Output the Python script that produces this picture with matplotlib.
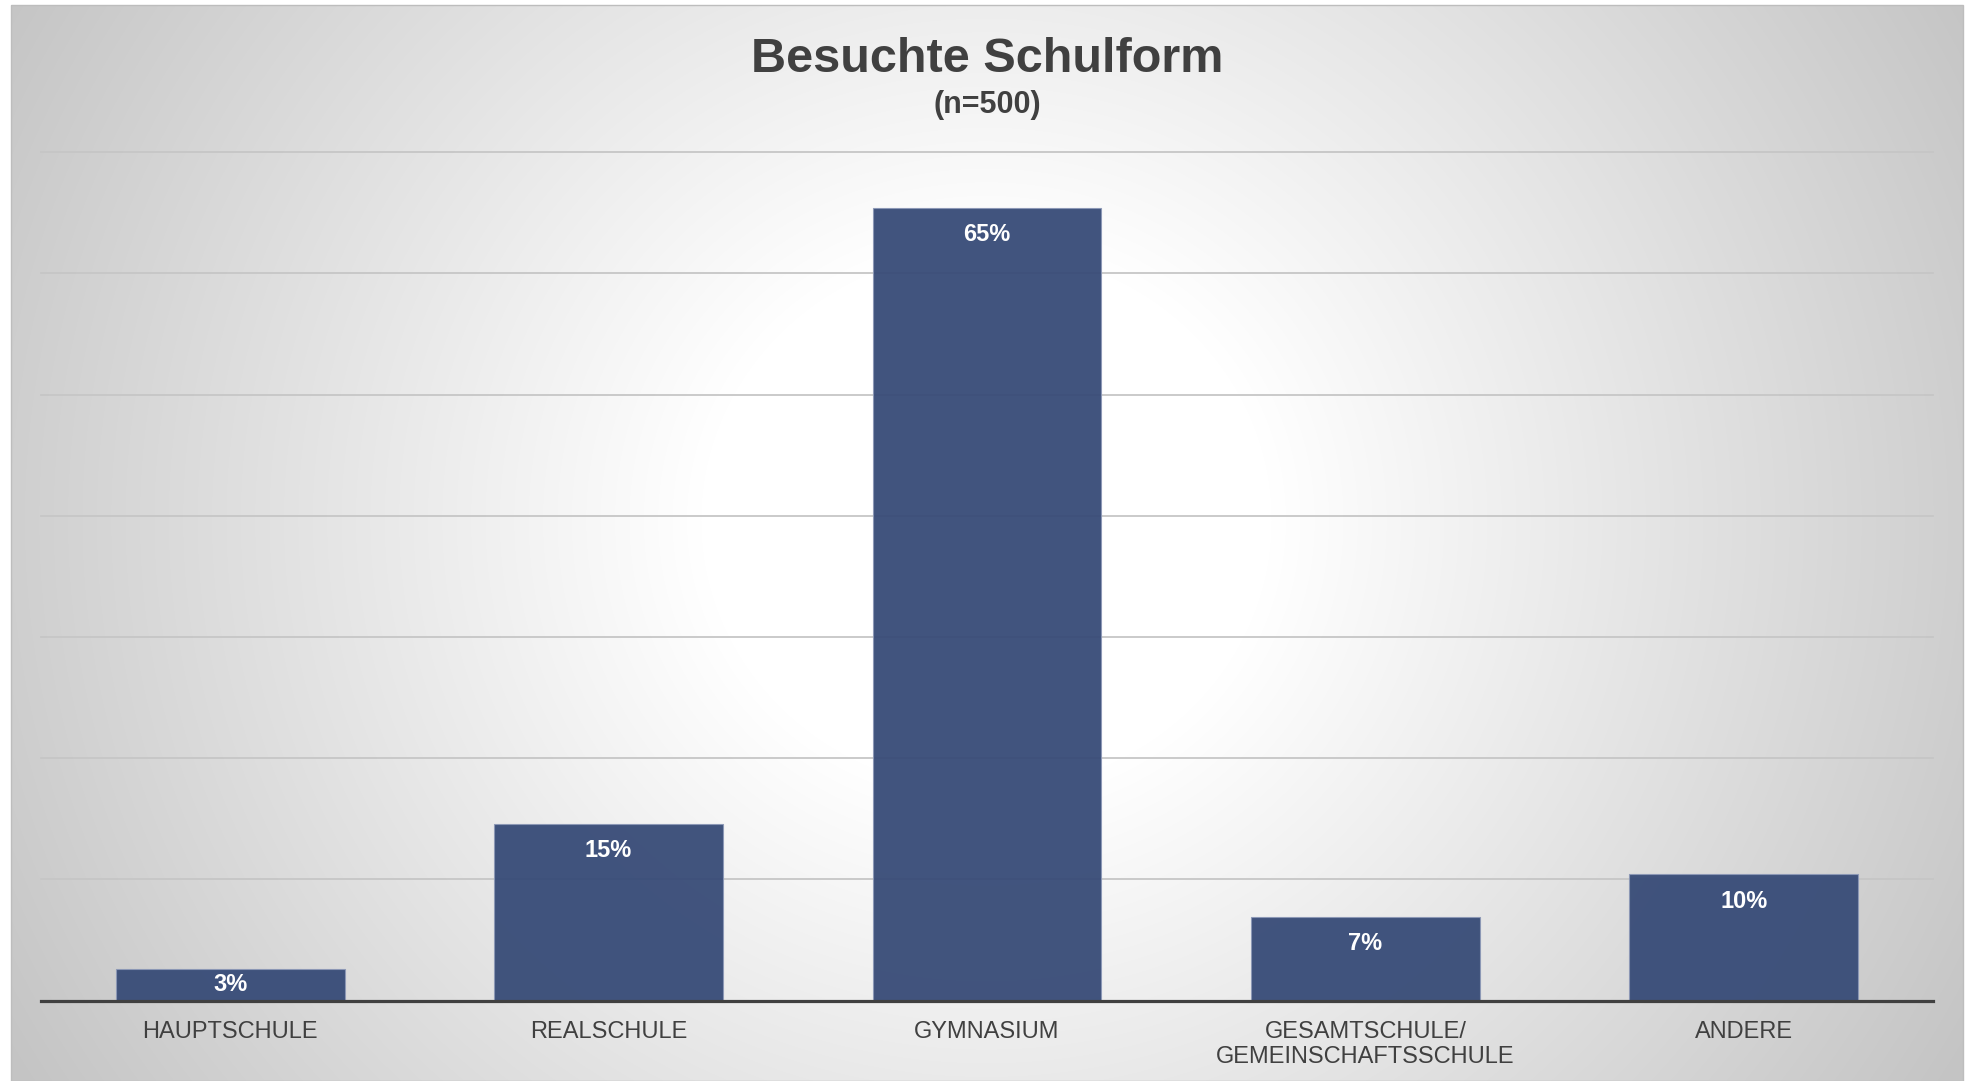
import numpy as np
import matplotlib
matplotlib.use("Agg")
import matplotlib.pyplot as plt
from matplotlib.patches import Rectangle

# ---- data ----
categories = ["HAUPTSCHULE", "REALSCHULE", "GYMNASIUM",
              "GESAMTSCHULE/\nGEMEINSCHAFTSSCHULE", "ANDERE"]
shares = [0.026, 0.146, 0.654, 0.069, 0.104]
y_ticks = [0.0, 0.1, 0.2, 0.3, 0.4, 0.5, 0.6, 0.7]
title = "Besuchte Schulform"
subtitle = "(n=500)"

W, H, DPI = 1968, 1081, 100
plt.rcParams['font.family'] = ['Liberation Sans', 'DejaVu Sans']
fig = plt.figure(figsize=(W / DPI, H / DPI), dpi=DPI)
fig.patch.set_facecolor('white')

# ---- background frame with radial gradient ----
fx0, fx1, fy_top = 11, 1963, 5
bg = fig.add_axes([fx0 / W, 0, (fx1 - fx0) / W, (H - fy_top) / H], zorder=-5)
gx = np.arange(fx0, fx1)
gy = np.arange(fy_top, H)
XX, YY = np.meshgrid(gx, gy)
d = np.sqrt(((XX - 986) / 950.0) ** 2 + ((YY - 520) / 900.0) ** 2)
v = 255 - 66 * np.clip(d - 0.3, 0, None)
v = np.clip(v, 196, 255) / 255.0
img = np.dstack([v, v, v])
bg.imshow(img, aspect='auto', interpolation='bilinear')
bg.set_axis_off()
fig.patches.append(Rectangle((fx0 / W, 0), (fx1 - fx0) / W, (H - fy_top) / H,
                             transform=fig.transFigure, fill=False,
                             edgecolor='#BDBDBD', linewidth=1.0, zorder=-4))

# ---- main axes ----
ax_l, ax_r = 41, 1933
ax_base, ax_top = 1000.5, 152.1
ax = fig.add_axes([ax_l / W, (H - ax_base) / H, (ax_r - ax_l) / W,
                   (ax_base - ax_top) / H])
ax.set_facecolor('none')

x = np.arange(len(categories))
for t in y_ticks[1:]:
    ax.axhline(t, color='#C6C6C6', linewidth=1.3, zorder=1, clip_on=False)

bars = ax.bar(x, shares, width=0.605, color='#374B77', alpha=0.95,
              edgecolor='#8C98B6', linewidth=0.8, zorder=3)

for xi, val in zip(x, shares):
    label = f"{val:.0%}"
    if val > 0.05:
        ax.annotate(label, xy=(xi, val), xytext=(0, -19.2),
                    textcoords='offset points', ha='center', va='center',
                    fontsize=17, fontweight='bold', color='white', zorder=5)
    else:
        ax.text(xi, val / 2, label, ha='center', va='center',
                fontsize=17, fontweight='bold', color='white', zorder=5)

ax.set_xlim(-0.5, len(categories) - 0.5)
ax.set_ylim(y_ticks[0], y_ticks[-1])
ax.set_yticks(y_ticks)
ax.set_xticks(x)
ax.set_xticklabels(categories, fontsize=17, color='#404040', linespacing=1.2)
ax.tick_params(axis='x', length=0, pad=14.5)
ax.tick_params(axis='y', length=0, labelleft=False)
for s in ['top', 'left', 'right']:
    ax.spines[s].set_visible(False)
ax.spines['bottom'].set_color('#404040')
ax.spines['bottom'].set_linewidth(2.3)
ax.spines['bottom'].set_zorder(4)

# ---- titles ----
fig.text(987 / W, (H - 72) / H, title, ha='center', va='baseline',
         fontsize=35, fontweight='bold', color='#404040')
fig.text(987 / W, (H - 112.5) / H, subtitle, ha='center', va='baseline',
         fontsize=22, fontweight='bold', color='#404040')

fig.savefig('out.png', dpi=DPI)
